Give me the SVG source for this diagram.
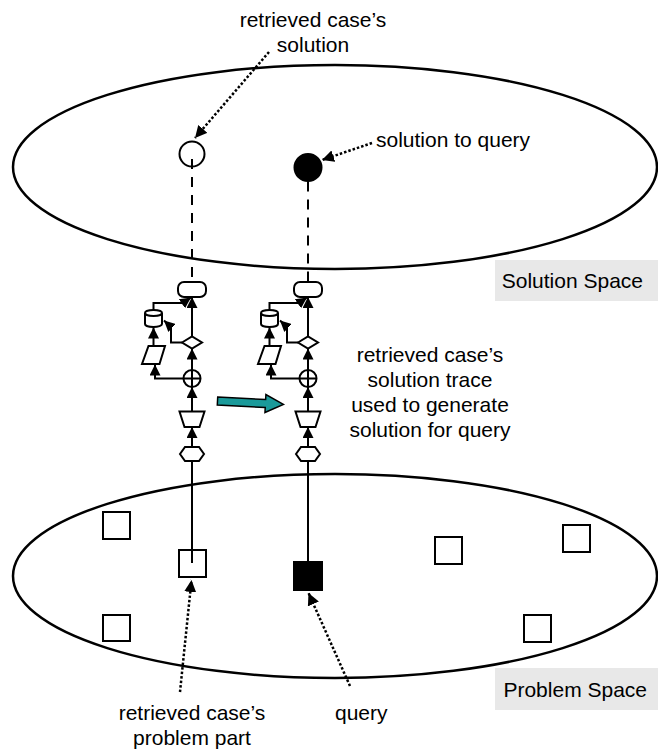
<svg xmlns="http://www.w3.org/2000/svg" width="658" height="751" viewBox="0 0 658 751">
<style>
.sp{fill:none;stroke:#000;stroke-width:2.5}
.nd{fill:#fff;stroke:#000;stroke-width:2}
.fd{fill:#000;stroke:#000;stroke-width:2}
.ln{fill:none;stroke:#000;stroke-width:2}
.ar{fill:none;stroke:#000;stroke-width:2;marker-end:url(#ah)}
.da{fill:none;stroke:#000;stroke-width:2;stroke-dasharray:10 8}
.dt{fill:none;stroke:#000;stroke-width:2.5;stroke-dasharray:2.5 2;marker-end:url(#ah2)}
.tx{font-family:"Liberation Sans",Arial,sans-serif;font-size:21px;fill:#000}
.bx{fill:#e8e8e8}
</style>
<defs>
<marker id="ah" markerUnits="userSpaceOnUse" viewBox="0 0 11 11" markerWidth="11" markerHeight="11" refX="11" refY="5.5" orient="auto"><path d="M0,0 L11,5.5 L0,11 z" fill="#000"/></marker>
<marker id="ah2" markerUnits="userSpaceOnUse" viewBox="0 0 12 12" markerWidth="12" markerHeight="12" refX="12" refY="6" orient="auto"><path d="M0,0 L12,6 L0,12 z" fill="#000"/></marker>
</defs>
<rect width="658" height="751" fill="#fff"/>
<g id="solution-space">
<ellipse class="sp" cx="335" cy="167" rx="322" ry="102"/>
</g>
<g id="problem-space">
<ellipse class="sp" cx="335" cy="576" rx="322" ry="102"/>
</g>
<g id="label-solution-space"><rect class="bx" x="495" y="260" width="163" height="41"/><text class="tx" x="643" y="288" text-anchor="end">Solution Space</text></g>
<g id="label-problem-space"><rect class="bx" x="495" y="668" width="163" height="42"/><text class="tx" x="647" y="697" text-anchor="end">Problem Space</text></g>

<g id="case-solution"><circle class="nd" cx="192" cy="154" r="12.5"/></g>
<g id="query-solution"><circle class="fd" cx="308" cy="167.5" r="13.5"/></g>

<g id="left-trace">
<g id="l-term"><rect class="nd" x="178" y="282" width="28" height="15" rx="6"/></g>
<g id="l-db"><path class="nd" d="M145,313 V324 A8.5,3 0 0 0 162,324 V313"/><ellipse class="nd" cx="153.5" cy="313" rx="8.5" ry="3"/></g>
<g id="l-dec"><polygon class="nd" points="182,342.5 192,336.5 202,342.5 192,348.5"/></g>
<g id="l-io"><polygon class="nd" points="148.5,346 165,346 159.5,364 142,364"/></g>
<g id="l-sum"><circle class="nd" cx="192" cy="378.5" r="8.5"/><path class="ln" d="M183.5,378.5 H200.5 M192,370 V387"/></g>
<g id="l-trap"><polygon class="nd" points="179.5,411.5 204.5,411.5 199.5,427 184.5,427"/></g>
<g id="l-hex"><polygon class="nd" points="180,454 185,447 199,447 204,454 199,461 185,461"/></g>
</g>

<g id="right-trace">
<g id="r-term"><rect class="nd" x="294" y="282" width="28" height="15" rx="6"/></g>
<g id="r-db"><path class="nd" d="M261,313 V324 A8.5,3 0 0 0 278,324 V313"/><ellipse class="nd" cx="269.5" cy="313" rx="8.5" ry="3"/></g>
<g id="r-dec"><polygon class="nd" points="298,342.5 308,336.5 318,342.5 308,348.5"/></g>
<g id="r-io"><polygon class="nd" points="264.5,346 281,346 275.5,364 258,364"/></g>
<g id="r-sum"><circle class="nd" cx="308" cy="378.5" r="8.5"/><path class="ln" d="M299.5,378.5 H316.5 M308,370 V387"/></g>
<g id="r-trap"><polygon class="nd" points="295.5,411.5 320.5,411.5 315.5,427 300.5,427"/></g>
<g id="r-hex"><polygon class="nd" points="296,454 301,447 315,447 320,454 315,461 301,461"/></g>
</g>

<g id="case-problem"><rect class="nd" x="179" y="550" width="27" height="27"/></g>
<g id="query-problem"><rect class="fd" x="294" y="562" width="28" height="28"/></g>
<g id="other-problems">
<rect class="nd" x="103" y="512" width="27" height="27"/>
<rect class="nd" x="103" y="615" width="27" height="26"/>
<rect class="nd" x="435" y="537" width="27" height="27"/>
<rect class="nd" x="563" y="525" width="27" height="27"/>
<rect class="nd" x="524" y="615" width="27" height="27"/>
</g>

<g id="transfer-arrow"><polygon transform="translate(217.5,401) rotate(3)" points="0,-4 48,-4 48,-9 66,0 48,9 48,4 0,4" fill="#1a9a9a" stroke="#000" stroke-width="1.5" stroke-linejoin="miter"/></g>

<g id="connectors">
<path class="ln" d="M192,563 V461"/>
<path class="ar" d="M192,447 V427"/>
<path class="ar" d="M192,411.5 V387"/>
<path class="ar" d="M192,370 V348.5"/>
<path class="ar" d="M192,336.5 V297"/>
<path class="ar" d="M153.5,310 V303 H183 L191,297.5"/>
<path class="ar" d="M182,342.5 H171 V327 L164,320.5"/>
<path class="ar" d="M153.5,346 V327.5"/>
<path class="ar" d="M183.5,378.5 H155 V364.5"/>
<path class="da" d="M192,159 V282"/>

<path class="ln" d="M308,562 V461"/>
<path class="ar" d="M308,447 V427"/>
<path class="ar" d="M308,411.5 V387"/>
<path class="ar" d="M308,370 V348.5"/>
<path class="ar" d="M308,336.5 V297"/>
<path class="ar" d="M269.5,310 V303 H299 L307,297.5"/>
<path class="ar" d="M298,342.5 H287 V327 L280,320.5"/>
<path class="ar" d="M269.5,346 V327.5"/>
<path class="ar" d="M299.5,378.5 H271 V364.5"/>
<path class="da" d="M308,181.5 V282"/>

<path class="dt" d="M269,52 L195,138"/>
<path class="dt" d="M372,143 L322,160"/>
<path class="dt" d="M180,692 L191.5,580"/>
<path class="dt" d="M350,686 L308.5,593"/>
</g>

<g id="labels">
<text class="tx" x="313" y="27" text-anchor="middle">retrieved case’s</text>
<text class="tx" x="313" y="52" text-anchor="middle">solution</text>
<text class="tx" x="376" y="147">solution to query</text>
<text class="tx" x="430" y="362" text-anchor="middle">retrieved case’s</text>
<text class="tx" x="430" y="387" text-anchor="middle">solution trace</text>
<text class="tx" x="430" y="412" text-anchor="middle">used to generate</text>
<text class="tx" x="430" y="437" text-anchor="middle">solution for query</text>
<text class="tx" x="192" y="720" text-anchor="middle">retrieved case’s</text>
<text class="tx" x="192" y="745" text-anchor="middle">problem part</text>
<text class="tx" x="335" y="720">query</text>
</g>
</svg>
